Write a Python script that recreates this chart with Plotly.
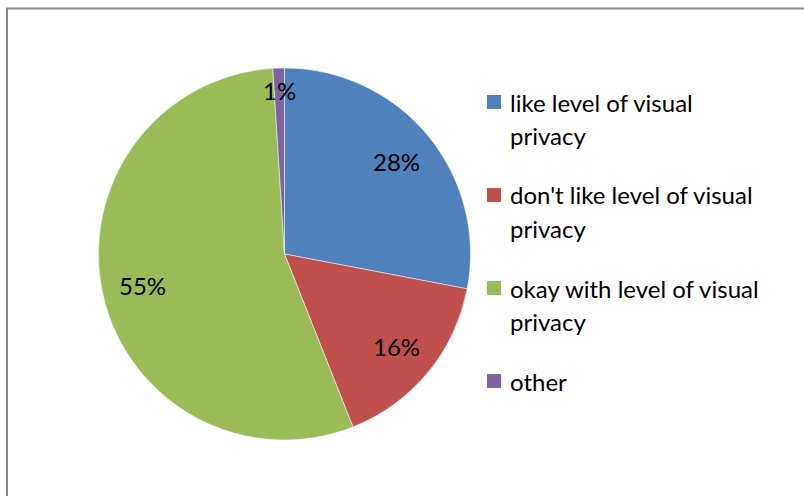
import math
import plotly.graph_objects as go

# Survey responses on visual privacy
categories = [
    "like level of visual privacy",
    "don't like level of visual privacy",
    "okay with level of visual privacy",
    "other",
]
legend_text = [
    "like level of visual<br>privacy",
    "don't like level of visual<br>privacy",
    "okay with level of visual<br>privacy",
    "other",
]
values = [28, 16, 55, 1]
colors = ["#4F81BD", "#C0504D", "#9BBB59", "#8064A2"]

W, H = 804, 496
FONT = "Lato, Calibri, Carlito, 'Open Sans', sans-serif"
FONT_SIZE = 24

# Pie placement in pixels
cx, cy, r = 284.5, 254.0, 186.0


def px_x(x):
    return x / W


def px_y(y):
    return 1 - y / H


fig = go.Figure(
    go.Pie(
        labels=categories,
        values=values,
        marker=dict(colors=colors, line=dict(color="white", width=0.5)),
        sort=False,
        direction="clockwise",
        rotation=0,
        textinfo="none",
        hoverinfo="label+percent",
        showlegend=False,
        domain=dict(x=[px_x(cx - r), px_x(cx + r)], y=[px_y(cy + r), px_y(cy - r)]),
    )
)

annotations = []
shapes = []

# Percentage labels placed along each slice's mid-angle
total = sum(values)
cum = 0.0
for v in values:
    frac = v / total
    mid = (cum + frac / 2) * 2 * math.pi
    cum += frac
    rf = 0.78 if frac > 0.05 else 0.88
    lx = cx + rf * r * math.sin(mid)
    ly = cy - rf * r * math.cos(mid)
    annotations.append(dict(
        x=px_x(lx), y=px_y(ly), xref="paper", yref="paper",
        text=f"{round(frac * 100)}%", showarrow=False,
        xanchor="center", yanchor="middle",
        font=dict(family=FONT, size=FONT_SIZE, color="black"),
    ))

# Legend: colored squares with wrapped labels
leg_x_box, leg_x_text = 487, 508
line_h = 33
entry_y = 102
for text, col in zip(legend_text, colors):
    shapes.append(dict(
        type="rect", xref="paper", yref="paper",
        x0=px_x(leg_x_box), x1=px_x(leg_x_box + 14),
        y0=px_y(entry_y + 7), y1=px_y(entry_y - 7),
        fillcolor=col, line=dict(width=0),
    ))
    lines = text.split("<br>")
    for k, ln in enumerate(lines):
        annotations.append(dict(
            x=px_x(leg_x_text), y=px_y(entry_y + k * line_h),
            xref="paper", yref="paper", text=ln, showarrow=False,
            xanchor="left", yanchor="middle",
            font=dict(family=FONT, size=FONT_SIZE, color="black"),
        ))
    entry_y += (len(lines) - 1) * line_h + 60

# Chart area border (top and left edges visible)
shapes.append(dict(
    type="rect", xref="paper", yref="paper",
    x0=px_x(7), x1=px_x(W + 20), y0=px_y(H + 20), y1=px_y(8.5),
    line=dict(color="#878787", width=2), fillcolor="rgba(0,0,0,0)",
))

fig.update_layout(
    width=W, height=H,
    margin=dict(l=0, r=0, t=0, b=0),
    paper_bgcolor="white", plot_bgcolor="white",
    annotations=annotations, shapes=shapes,
    showlegend=False,
)

fig.write_html("out.html")
